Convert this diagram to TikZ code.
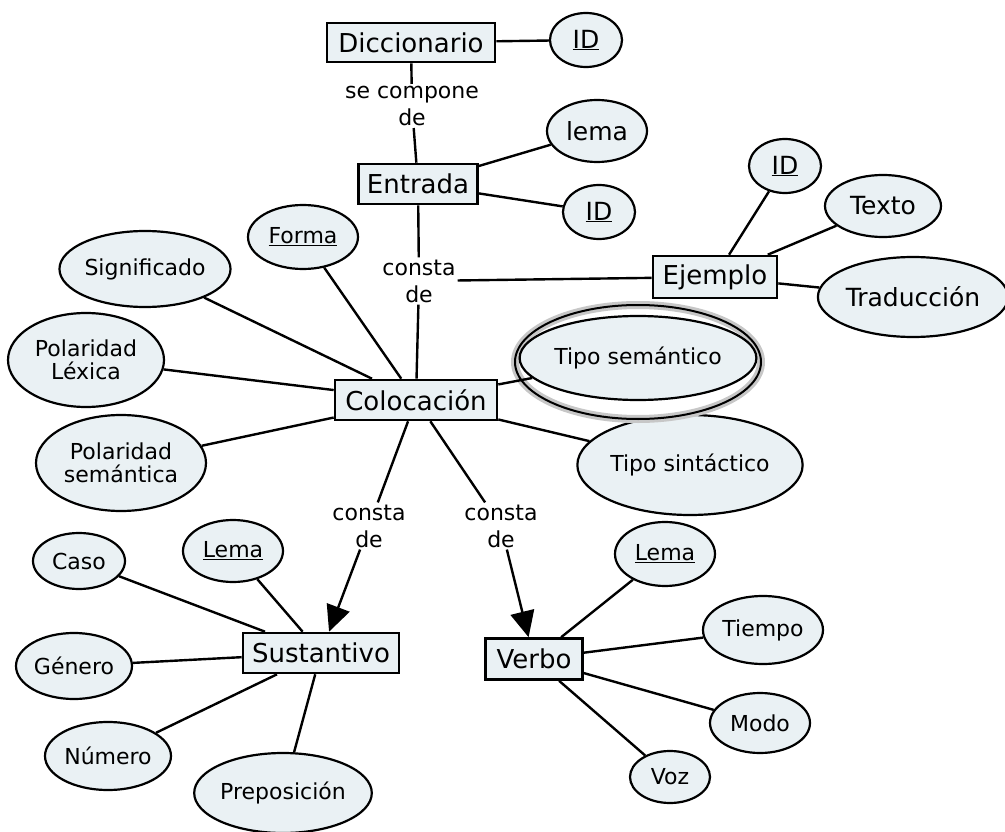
\documentclass[tikz,border=0pt]{standalone}
\usepackage{fontspec}
\setmainfont{DejaVu Sans}
\usetikzlibrary{shapes.geometric,arrows.meta}
\definecolor{nodefill}{HTML}{EAF1F4}
\tikzset{
  concept/.style={rectangle,draw=black,line width=2.6pt,fill=nodefill,inner sep=0pt,
    font=\fontsize{26}{30}\selectfont},
  cbox/.style 2 args={concept,minimum width=#1,minimum height=#2},
  attr/.style={ellipse,draw=black,line width=2.2pt,fill=nodefill,inner sep=0pt,align=center,
    font=\fontsize{22}{26}\selectfont},
  ea/.style 2 args={attr,minimum width=2*#1,minimum height=2*#2},
  big/.style={font=\fontsize{25}{29}\selectfont},
  lab/.style={inner sep=2pt,align=center,font=\fontsize{22}{27}\selectfont},
  conn/.style={line width=2.4pt},
  arr/.style={conn,-{Triangle[length=26pt,width=24pt]}},
  ring/.style={ellipse,draw=black,line width=2pt,inner sep=0pt,
    preaction={draw=black!22,line width=8pt}},
}
\begin{document}
\begin{tikzpicture}[x=1pt,y=-1pt]
\useasboundingbox (0,0) rectangle (1005,832);

% Tipo sintactico and the outer ring of Tipo semantico
\node[ea={92}{50}] (tipoSin) at (690,465) {Tipo sintáctico};
\node[ring,minimum width=246,minimum height=114] (semRing) at (638,362) {};

% concepts
\node[cbox={168}{39}] (dicc) at (411,42.5) {Diccionario};
\node[cbox={119}{40}] (entrada) at (418,184) {Entrada};
\node[cbox={124}{42}] (ejemplo) at (715,277) {Ejemplo};
\node[cbox={162}{40}] (coloc) at (416,400) {Colocación};
\node[cbox={156}{40}] (sust) at (321,653) {Sustantivo};
\node[cbox={97}{41}] (verbo) at (534,659) {Verbo};

% attributes
\node[ea={36}{27},big] (idA) at (586,40) {\underline{ID}};
\node[ea={50}{31},big] (lema) at (597,131) {lema};
\node[ea={36}{27},big] (idB) at (599,212) {\underline{ID}};
\node[ea={36}{27},big] (idC) at (785,166) {\underline{ID}};
\node[ea={58}{31},big] (texto) at (883,206) {Texto};
\node[ea={88}{40},big] (trad) at (913,297) {Traducción};
\node[ea={55}{32}] (forma) at (303,237) {\underline{Forma}};
\node[ea={82}{38}] (signif) at (145,269) {Significado};
\node[ea={78}{47}] (polLex) at (86,360) {Polaridad\\[-3pt]Léxica};
\node[ea={85}{48}] (polSem) at (121,463) {Polaridad\\[-3pt]semántica};
\node[ea={106}{42}] (tipoSem) at (638,358) {Tipo semántico};
\node[ea={46}{28}] (caso) at (79,561) {Caso};
\node[ea={50}{31}] (lemaS) at (233,551) {\underline{Lema}};
\node[ea={58}{33}] (genero) at (74,666) {Género};
\node[ea={63}{34}] (numero) at (108,756) {Número};
\node[ea={84}{40}] (prep) at (283,793) {Preposición};
\node[ea={50}{32}] (lemaV) at (665,554) {\underline{Lema}};
\node[ea={60}{34}] (tiempo) at (763,630) {Tiempo};
\node[ea={50}{30}] (modo) at (760,723) {Modo};
\node[ea={40}{26}] (voz) at (670,777) {Voz};

% linking phrases
\node[lab] (l1) at (412,106) {se compone\\de};
\node[lab] (l2) at (419,281) {consta\\de};
\node[lab] (l3) at (369,526) {consta\\de};
\node[lab] (l4) at (501,526) {consta\\de};

% connectors
\draw[conn] (dicc) -- (idA);
\draw[conn] (dicc) -- (l1);
\draw[conn] (l1) -- (entrada);
\draw[conn] (entrada) -- (lema);
\draw[conn] (entrada) -- (idB);
\draw[conn] (entrada) -- (l2);
\draw[conn] (l2) -- (coloc);
\draw[conn] (l2) -- (ejemplo);
\draw[conn] (ejemplo) -- (idC);
\draw[conn] (ejemplo) -- (texto);
\draw[conn] (ejemplo) -- (trad);
\draw[conn] (coloc) -- (forma);
\draw[conn] (coloc) -- (signif);
\draw[conn] (coloc) -- (polLex);
\draw[conn] (coloc) -- (polSem);
\draw[conn] (coloc) -- (tipoSem);
\draw[conn] (coloc) -- (tipoSin);
\draw[conn] (coloc) -- (l3);
\draw[arr] (l3) -- (sust);
\draw[conn] (coloc) -- (l4);
\draw[arr] (l4) -- (verbo);
\draw[conn] (sust) -- (caso);
\draw[conn] (sust) -- (lemaS);
\draw[conn] (sust) -- (genero);
\draw[conn] (sust) -- (numero);
\draw[conn] (sust) -- (prep);
\draw[conn] (verbo) -- (lemaV);
\draw[conn] (verbo) -- (tiempo);
\draw[conn] (verbo) -- (modo);
\draw[conn] (verbo) -- (voz);
\end{tikzpicture}
\end{document}
